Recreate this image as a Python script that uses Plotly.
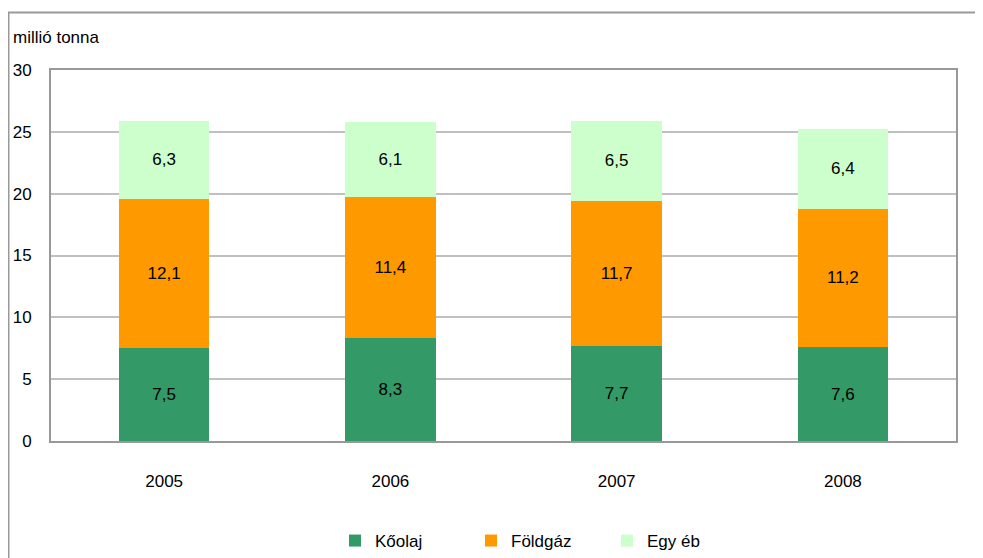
import plotly.graph_objects as go

years = ["2005", "2006", "2007", "2008"]
koolaj = [7.5, 8.3, 7.7, 7.6]
foldgaz = [12.1, 11.4, 11.7, 11.2]
egyeb = [6.3, 6.1, 6.5, 6.4]
series_names = ["Kőolaj", "Földgáz", "Egy éb"]
y_ticks = [0, 5, 10, 15, 20, 25, 30]
y_title = "millió tonna"

colors = ["#339966", "#FF9900", "#CCFFCC"]
FONT = "Liberation Sans, Arial, sans-serif"
FS = 17

# the page body has an 8px margin, so the figure starts at (8, 8) in the window
OFF = 8
W, H = 983 - OFF, 558 - OFF
PL, PR, PT, PB = 51 - OFF, 956 - OFF, 70 - OFF, 441 - OFF
PW, PH = PR - PL, PB - PT

def fmt(v):
    return f"{v:.1f}".replace(".", ",")

fig = go.Figure()
for name, vals, col in zip(series_names, [koolaj, foldgaz, egyeb], colors):
    fig.add_trace(go.Bar(
        x=years, y=vals, name=name,
        marker=dict(color=col, line=dict(width=0)),
        text=[fmt(v) for v in vals],
        textposition="inside", insidetextanchor="middle", textangle=0,
        textfont=dict(family=FONT, size=FS, color="#000000"),
        hoverinfo="skip",
    ))

fig.update_layout(
    width=W, height=H,
    barmode="stack", bargap=0.6,
    plot_bgcolor="white", paper_bgcolor="white",
    margin=dict(l=PL, r=W - PR, t=PT, b=H - PB, autoexpand=False),
    font=dict(family=FONT, size=FS, color="#000000"),
    showlegend=True,
    legend=dict(orientation="h", x=(539 - 51) / PW, xanchor="center",
                y=-(541 - 441) / PH, yanchor="middle",
                font=dict(family=FONT, size=FS), traceorder="normal",
                itemwidth=30, entrywidth=91, entrywidthmode="pixels",
                bgcolor="rgba(0,0,0,0)"),
    xaxis=dict(showline=True, linecolor="#999999", linewidth=2, mirror=True, automargin=False,
               ticks="", showgrid=False, ticklabelstandoff=24,
               tickfont=dict(family=FONT, size=FS)),
    yaxis=dict(range=[0, 30], tickvals=y_ticks, showline=True, linecolor="#999999", automargin=False,
               linewidth=2, mirror=True, showgrid=True, gridcolor="#C0C0C0", gridwidth=1.5,
               ticks="", ticklabelstandoff=14, zeroline=False,
               tickfont=dict(family=FONT, size=FS)),
    shapes=[dict(type="rect", xref="paper", yref="paper",
                 x0=(8.5 - 51) / PW, x1=1.2, y0=-0.5, y1=1 + (70 - 12.5) / PH,
                 line=dict(color="#999999", width=2), layer="below")],
    annotations=[dict(text=y_title, xref="paper", yref="paper",
                      x=(11 - 51) / PW, y=1 + (70 - 37) / PH,
                      xanchor="left", yanchor="middle", showarrow=False,
                      font=dict(family=FONT, size=FS))],
)

fig.write_html("out.html")
